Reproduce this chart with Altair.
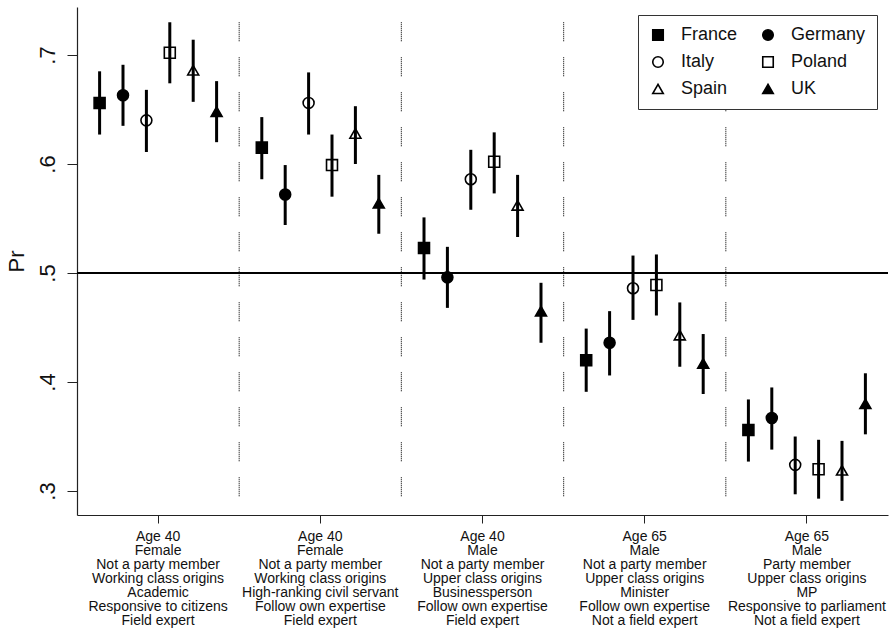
import altair as alt
import pandas as pd

# Candidate profiles (one x-axis group each), printed as stacked lines
profiles = [
    ["Age 40", "Female", "Not a party member", "Working class origins",
     "Academic", "Responsive to citizens", "Field expert"],
    ["Age 40", "Female", "Not a party member", "Working class origins",
     "High-ranking civil servant", "Follow own expertise", "Field expert"],
    ["Age 40", "Male", "Not a party member", "Upper class origins",
     "Businessperson", "Follow own expertise", "Field expert"],
    ["Age 65", "Male", "Not a party member", "Upper class origins",
     "Minister", "Follow own expertise", "Not a field expert"],
    ["Age 65", "Male", "Party member", "Upper class origins",
     "MP", "Responsive to parliament", "Not a field expert"],
]

countries = ["France", "Germany", "Italy", "Poland", "Spain", "UK"]

# Predicted probabilities and 95% confidence bounds, one value per profile
france_pr = [0.656, 0.615, 0.523, 0.420, 0.356]
france_lo = [0.627, 0.586, 0.494, 0.391, 0.327]
france_hi = [0.685, 0.643, 0.551, 0.449, 0.384]

germany_pr = [0.663, 0.572, 0.496, 0.436, 0.367]
germany_lo = [0.635, 0.544, 0.468, 0.406, 0.338]
germany_hi = [0.691, 0.599, 0.524, 0.465, 0.395]

italy_pr = [0.640, 0.656, 0.586, 0.486, 0.324]
italy_lo = [0.611, 0.627, 0.558, 0.457, 0.297]
italy_hi = [0.668, 0.684, 0.613, 0.516, 0.350]

poland_pr = [0.702, 0.599, 0.602, 0.489, 0.320]
poland_lo = [0.674, 0.570, 0.573, 0.461, 0.293]
poland_hi = [0.730, 0.627, 0.629, 0.517, 0.347]

spain_pr = [0.686, 0.628, 0.562, 0.443, 0.319]
spain_lo = [0.657, 0.600, 0.533, 0.414, 0.291]
spain_hi = [0.714, 0.653, 0.590, 0.473, 0.346]

uk_pr = [0.648, 0.564, 0.465, 0.417, 0.380]
uk_lo = [0.620, 0.536, 0.436, 0.389, 0.352]
uk_hi = [0.676, 0.590, 0.491, 0.444, 0.408]

y_ticks = [0.3, 0.4, 0.5, 0.6, 0.7]
reference_pr = 0.5

series = {
    "France": (france_pr, france_lo, france_hi),
    "Germany": (germany_pr, germany_lo, germany_hi),
    "Italy": (italy_pr, italy_lo, italy_hi),
    "Poland": (poland_pr, poland_lo, poland_hi),
    "Spain": (spain_pr, spain_lo, spain_hi),
    "UK": (uk_pr, uk_lo, uk_hi),
}

profile_keys = ["|".join(p) for p in profiles]

rows = []
for country in countries:
    pr, lo, hi = series[country]
    for key, p, l, h in zip(profile_keys, pr, lo, hi):
        rows.append({"profile": key, "country": country, "pr": p, "lo": l, "hi": h})
df = pd.DataFrame(rows)

sep_df = pd.DataFrame({"profile": profile_keys[1:]})
ref_df = pd.DataFrame({"pr": [reference_pr]})

FONT = "Liberation Sans"
Y_DOMAIN = [0.278, 0.744]
SEP_TOP, SEP_BOTTOM = 0.730, 0.2895

x_scale = alt.Scale(domain=profile_keys, paddingInner=0, paddingOuter=0)
y_scale = alt.Scale(domain=Y_DOMAIN, nice=False, zero=False)
off_scale = alt.Scale(domain=countries, paddingInner=0, paddingOuter=0.466)

shape_scale = alt.Scale(
    domain=countries,
    range=["square", "circle", "circle", "square", "triangle-up", "triangle-up"],
)
fill_scale = alt.Scale(
    domain=countries,
    range=["black", "black", "transparent", "transparent", "transparent", "black"],
)
stroke_scale = alt.Scale(domain=countries, range=["black"] * len(countries))

legend = alt.Legend(
    title=None,
    orient="none",
    legendX=561,
    legendY=8,
    direction="horizontal",
    columns=2,
    columnPadding=21,
    rowPadding=9,
    padding=11,
    strokeColor="#333",
    fillColor="white",
    labelFont=FONT,
    labelFontSize=18,
    labelColor="#111",
    labelOffset=14,
    symbolSize=110,
    symbolStrokeColor="black",
    symbolStrokeWidth=1.6,
)

x_axis = alt.Axis(
    title=None,
    labelExpr="split(datum.label, '|')",
    labelAngle=0,
    labelFont=FONT,
    labelFontSize=14,
    labelLineHeight=14,
    labelColor="#111",
    labelLimit=0,
    labelOverlap=False,
    labelPadding=6,
    labelBaseline="top",
    tickSize=8,
    tickColor="#222",
    domainColor="#222",
    domainWidth=1.2,
    bandPosition=0.5,
)

y_axis = alt.Axis(
    title="Pr",
    values=y_ticks,
    labelExpr="substring(format(datum.value, '.1f'), 1)",
    labelAngle=270,
    labelAlign="center",
    labelBaseline="bottom",
    labelFont=FONT,
    labelFontSize=22,
    labelColor="#111",
    labelPadding=8,
    tickSize=10,
    tickColor="#222",
    domainColor="#222",
    domainWidth=1.2,
    grid=False,
    titleFont=FONT,
    titleFontSize=22,
    titleFontWeight="normal",
    titleColor="#111",
    titlePadding=8,
)

base = alt.Chart(df)

# Dotted dividers between profile groups
dividers = alt.Chart(sep_df).mark_rule(
    stroke="#222", strokeWidth=1.2,
    strokeDash=[1, 1] * 9 + [1, 16],
).encode(
    x=alt.X("profile:N", scale=x_scale, bandPosition=0, axis=x_axis, sort=profile_keys),
    y=alt.datum(SEP_TOP, scale=y_scale),
    y2=alt.datum(SEP_BOTTOM),
)

# Horizontal reference line at Pr = .5
ref_line = alt.Chart(ref_df).mark_rule(stroke="black", strokeWidth=2).encode(
    y=alt.Y("pr:Q", scale=y_scale, axis=y_axis),
)

ci = base.mark_rule(stroke="black", strokeWidth=3).encode(
    x=alt.X("profile:N", scale=x_scale, axis=x_axis, sort=profile_keys),
    xOffset=alt.XOffset("country:N", scale=off_scale, sort=countries),
    y=alt.Y("lo:Q", scale=y_scale, axis=y_axis),
    y2="hi:Q",
)

points = base.mark_point(
    strokeWidth=1.6, size=120, opacity=1, fillOpacity=1
).encode(
    x=alt.X("profile:N", scale=x_scale, axis=x_axis, sort=profile_keys),
    xOffset=alt.XOffset("country:N", scale=off_scale, sort=countries),
    y=alt.Y("pr:Q", scale=y_scale, axis=y_axis),
    shape=alt.Shape("country:N", scale=shape_scale, legend=legend, sort=countries),
    fill=alt.Fill("country:N", scale=fill_scale, legend=legend, sort=countries),
    stroke=alt.Stroke("country:N", scale=stroke_scale, legend=legend, sort=countries),
)

chart = alt.layer(dividers, ref_line, ci, points).properties(
    width=811,
    height=508,
    autosize="none",
    padding={"left": 77, "top": 7, "right": 4, "bottom": 118},
    background="white",
).configure_view(stroke=None)

chart.save("out.html", embed_options={"renderer": "svg", "actions": False})
